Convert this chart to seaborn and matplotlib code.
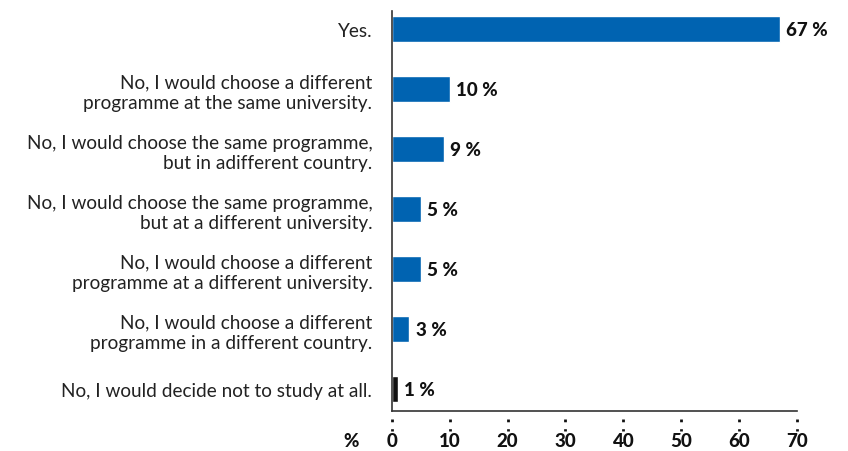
import matplotlib
matplotlib.use("Agg")
import matplotlib.pyplot as plt
import seaborn as sns
import pandas as pd
import numpy as np

# 데이터
answers = [
    "Yes.",
    "No, I would choose a different\nprogramme at the same university.",
    "No, I would choose the same programme,\nbut in adifferent country.",
    "No, I would choose the same programme,\nbut at a different university.",
    "No, I would choose a different\nprogramme at a different university.",
    "No, I would choose a different\nprogramme in a different country.",
    "No, I would decide not to study at all.",
]
shares = [67, 10, 9, 5, 5, 3, 1]
bar_colors = ["#0063b1"] * 6 + ["#111111"]
x_ticks = [0, 10, 20, 30, 40, 50, 60, 70]

df = pd.DataFrame({"answer": answers, "share": shares})

sns.set_style("white")
plt.rcParams["font.family"] = ["Lato", "DejaVu Sans"]

fig = plt.figure(figsize=(8.48, 4.52), dpi=100)
ax = fig.add_axes([0.462, 0.088, 0.478, 0.885])

sns.barplot(data=df, x="share", y="answer", hue="answer", palette=bar_colors,
            saturation=1, legend=False, width=0.43, ax=ax, orient="h")

# 값 라벨
for i, v in enumerate(shares):
    ax.text(v + 1.1, i, f"{v} %", va="center", ha="left",
            fontsize=13.5, fontweight="black", color="#111111")

ax.set_xlim(0, 70)
ax.set_ylim(6.37, -0.3)
ax.set_xticks(x_ticks)
ax.set_xticklabels([str(t) for t in x_ticks], fontsize=13.5, fontweight="black")
ax.tick_params(axis="x", direction="in", length=3, width=1.5, pad=15, colors="#111111")
ax.tick_params(axis="y", length=0, pad=14, labelsize=13.7, colors="#222222")
for t in ax.get_yticklabels():
    t.set_linespacing(1.25)
ax.set_xlabel("")
ax.set_ylabel("")

for s in ["top", "right"]:
    ax.spines[s].set_visible(False)
ax.spines["left"].set_color("#333333")
ax.spines["bottom"].set_color("#333333")
ax.spines["left"].set_linewidth(1.2)
ax.spines["bottom"].set_linewidth(1.2)

# 점선 눈금
trans = ax.get_xaxis_transform()
for t in x_ticks:
    ax.plot([t, t], [-0.02, -0.05], transform=trans, color="#111111",
            linestyle=(0, (1, 2.5)), linewidth=2, clip_on=False)

ax.text(-0.1, -0.052, "%", transform=ax.transAxes, ha="center", va="top",
        fontsize=13.5, fontweight="black", color="#111111")

fig.savefig("out.png", dpi=100)
